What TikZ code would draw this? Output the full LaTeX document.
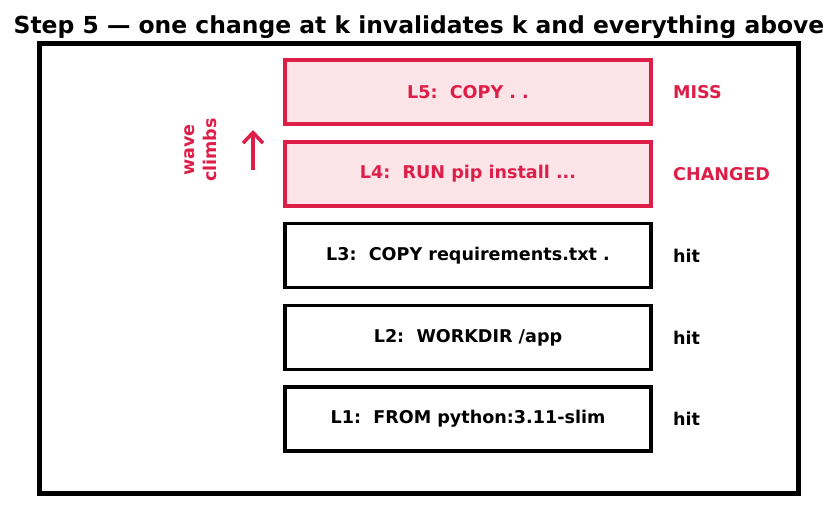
\documentclass[tikz,border=0pt]{standalone}
\usepackage{fontspec}
\setmainfont{DejaVu Sans}
\usepackage{tikz}
\usetikzlibrary{arrows.meta, positioning}
\definecolor{hotred}{RGB}{220,30,72}
\definecolor{hotpink}{RGB}{252,228,233}
\definecolor{inkblack}{RGB}{0,0,0}
\tikzset{
  layer/.style={rectangle, draw=inkblack, fill=white, minimum width=10.98cm,
    minimum height=1.92cm, line width=3.4pt, font=\fontsize{15}{18}\selectfont\bfseries,
    text=inkblack},
  hotlayer/.style={layer, draw=hotred, fill=hotpink, text=hotred},
  status/.style={anchor=west, font=\fontsize{15}{18}\selectfont\bfseries, text=inkblack},
  hotstatus/.style={status, text=hotred},
  arrow/.style={-{Straight Barb[length=9pt, width=17pt]}, line width=3pt, color=hotred}
}
\begin{document}
\begin{tikzpicture}[x=0.03cm, y=-0.03cm]
  \useasboundingbox (0,0) rectangle (837,510);

  % Title
  \node (title) at (419,27) {\fontsize{20}{24}\selectfont\bfseries Step 5 — one change at k invalidates k and everything above};

  % Outer frame
  \draw[line width=4.2pt] (39.5,43.5) rectangle (798.5,493.5);

  % Layer stack, bottom to top
  \node[layer] (l1) at (468,419) {L1:\ \ FROM python:3.11-slim};
  \node[layer] (l2) at (468,337.5) {L2:\ \ WORKDIR /app};
  \node[layer] (l3) at (468,255.5) {L3:\ \ COPY requirements.txt .};
  \node[hotlayer] (l4) at (468,174) {L4:\ \ RUN pip install ...};
  \node[hotlayer] (l5) at (468,92) {L5:\ \ COPY . .};

  % Cache status
  \node[status] (s1) at (669,419) {hit};
  \node[status] (s2) at (669,337.5) {hit};
  \node[status] (s3) at (669,255.5) {hit};
  \node[hotstatus] (s4) at (669,174) {CHANGED};
  \node[hotstatus] (s5) at (669,92) {MISS};

  % Wave arrow
  \coordinate (wbot) at (253,170);
  \coordinate (wtop) at (253,130);
  \draw[arrow] (wbot) -- (wtop);
  \node[rotate=90, align=center, text=hotred, font=\fontsize{15}{18.7}\selectfont\bfseries] (wave) at (201,150) {wave\\climbs};
\end{tikzpicture}
\end{document}
